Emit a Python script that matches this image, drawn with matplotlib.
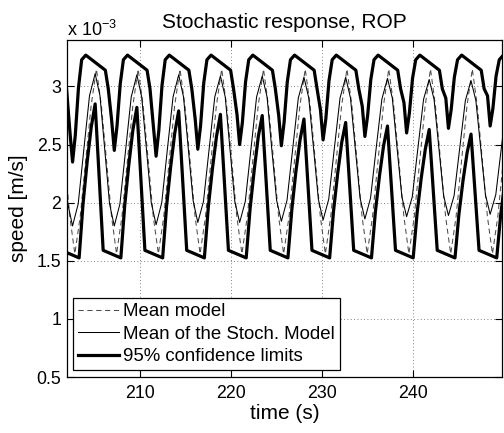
import matplotlib
matplotlib.use("Agg")
import matplotlib.pyplot as plt

plt.rcParams['font.family'] = ['Liberation Sans', 'DejaVu Sans']
plt.rcParams['mathtext.fontset'] = 'custom'
plt.rcParams['mathtext.rm'] = 'Liberation Sans'

# all speeds in units of 1e-3 m/s

# mean model (dashed)
t_mean_model = [201.20, 201.76, 202.31,
                202.86, 203.45, 204.05, 204.64, 205.23, 205.78, 206.34, 206.89,
                207.44, 208.03, 208.63, 209.22, 209.81, 210.36, 210.92, 211.47,
                212.03, 212.62, 213.22, 213.81, 214.40, 214.95, 215.51, 216.06,
                216.61, 217.20, 217.80, 218.39, 218.98, 219.53, 220.09, 220.64,
                221.20, 221.79, 222.39, 222.98, 223.57, 224.12, 224.68, 225.23,
                225.78, 226.37, 226.97, 227.56, 228.15, 228.70, 229.26, 229.81,
                230.36, 230.95, 231.55, 232.14, 232.73, 233.28, 233.84, 234.39,
                234.95, 235.54, 236.14, 236.73, 237.32, 237.87, 238.43, 238.98,
                239.53, 240.12, 240.72, 241.31, 241.90, 242.45, 243.01, 243.56,
                244.12, 244.71, 245.31, 245.90, 246.49, 247.04, 247.60, 248.15,
                248.70, 249.29, 249.89]
v_mean_model = [2.83, 2.36, 1.88,
                1.56, 1.88, 2.36, 2.83, 3.15, 2.83, 2.36, 1.88,
                1.56, 1.88, 2.36, 2.83, 3.15, 2.83, 2.36, 1.88,
                1.56, 1.88, 2.36, 2.83, 3.15, 2.83, 2.36, 1.88,
                1.56, 1.88, 2.36, 2.83, 3.15, 2.83, 2.36, 1.88,
                1.56, 1.88, 2.36, 2.83, 3.15, 2.83, 2.36, 1.88,
                1.56, 1.88, 2.36, 2.83, 3.15, 2.83, 2.36, 1.88,
                1.56, 1.88, 2.36, 2.83, 3.15, 2.83, 2.36, 1.88,
                1.56, 1.88, 2.36, 2.83, 3.15, 2.83, 2.36, 1.88,
                1.56, 1.88, 2.36, 2.83, 3.15, 2.83, 2.36, 1.88,
                1.56, 1.88, 2.36, 2.83, 3.15, 2.83, 2.36, 1.88,
                1.56, 1.88, 2.36]

# mean of the stochastic model (thin solid)
t_stoch_mean = [201.56, 202.09,
                202.61, 203.23, 203.85, 204.47, 205.09, 205.62, 206.14, 206.67,
                207.19, 207.81, 208.43, 209.05, 209.67, 210.20, 210.72, 211.25,
                211.78, 212.40, 213.02, 213.64, 214.26, 214.79, 215.31, 215.84,
                216.36, 216.98, 217.60, 218.22, 218.84, 219.37, 219.89, 220.42,
                220.95, 221.57, 222.19, 222.81, 223.43, 223.96, 224.48, 225.01,
                225.53, 226.15, 226.77, 227.39, 228.01, 228.54, 229.06, 229.59,
                230.11, 230.73, 231.35, 231.97, 232.59, 233.12, 233.64, 234.17,
                234.70, 235.32, 235.94, 236.56, 237.18, 237.71, 238.23, 238.76,
                239.28, 239.90, 240.52, 241.14, 241.76, 242.29, 242.81, 243.34,
                243.87, 244.49, 245.11, 245.73, 246.35, 246.88, 247.40, 247.93,
                248.45, 249.07, 249.69, 250.31]
v_stoch_mean = [2.46, 1.99,
                1.80, 1.99, 2.46, 2.92, 3.11, 2.92, 2.46, 1.99,
                1.80, 1.99, 2.45, 2.91, 3.10, 2.91, 2.46, 2.00,
                1.81, 2.00, 2.46, 2.91, 3.10, 2.91, 2.47, 2.02,
                1.83, 2.01, 2.46, 2.91, 3.09, 2.91, 2.46, 2.01,
                1.83, 2.01, 2.46, 2.91, 3.09, 2.91, 2.46, 2.02,
                1.84, 2.02, 2.46, 2.90, 3.08, 2.90, 2.47, 2.03,
                1.85, 2.03, 2.47, 2.90, 3.08, 2.90, 2.47, 2.04,
                1.86, 2.04, 2.47, 2.89, 3.07, 2.90, 2.47, 2.05,
                1.88, 2.05, 2.47, 2.89, 3.06, 2.89, 2.48, 2.06,
                1.89, 2.06, 2.47, 2.88, 3.05, 2.88, 2.48, 2.07,
                1.90, 2.07, 2.48, 2.88]

# upper 95% confidence limit (thick)
t_upper = [201.95, 202.32,
           202.61, 202.91, 203.26, 203.61, 204.06, 206.21, 206.53, 206.90,
           207.19, 207.49, 207.84, 208.19, 208.64, 210.79, 211.11, 211.48,
           211.78, 212.08, 212.43, 212.78, 213.23, 215.38, 215.70, 216.07,
           216.36, 216.66, 217.01, 217.36, 217.81, 219.96, 220.28, 220.66,
           220.95, 221.25, 221.60, 221.95, 222.40, 224.55, 224.87, 225.24,
           225.53, 225.83, 226.18, 226.53, 226.98, 229.13, 229.45, 229.82,
           230.11, 230.41, 230.76, 231.11, 231.56, 233.71, 234.03, 234.41,
           234.70, 235.00, 235.35, 235.70, 236.15, 238.30, 238.62, 238.99,
           239.28, 239.58, 239.93, 240.28, 240.73, 242.88, 243.20, 243.58,
           243.87, 244.17, 244.52, 244.87, 245.32, 247.47, 247.79, 248.16,
           248.45, 248.75, 249.10, 249.45, 249.90]
v_upper = [2.98, 2.61,
           2.35, 2.58, 2.99, 3.23, 3.27, 3.14, 2.98, 2.71,
           2.45, 2.66, 3.02, 3.23, 3.27, 3.14, 2.98, 2.66,
           2.40, 2.62, 3.01, 3.23, 3.27, 3.14, 2.98, 2.72,
           2.46, 2.66, 3.03, 3.23, 3.27, 3.14, 2.98, 2.76,
           2.50, 2.69, 3.04, 3.23, 3.27, 3.14, 2.98, 2.75,
           2.49, 2.69, 3.04, 3.23, 3.27, 3.14, 2.98, 2.80,
           2.54, 2.72, 3.05, 3.23, 3.27, 3.14, 2.98, 2.83,
           2.57, 2.75, 3.06, 3.23, 3.27, 3.14, 2.98, 2.86,
           2.60, 2.77, 3.07, 3.23, 3.27, 3.14, 2.98, 2.90,
           2.64, 2.80, 3.08, 3.23, 3.27, 3.14, 2.98, 2.92,
           2.66, 2.81, 3.09, 3.23, 3.27]

# lower 95% confidence limit (thick)
t_lower = [201.39,
           203.33, 203.76, 204.21, 204.66, 205.09, 205.97,
           207.91, 208.34, 208.79, 209.24, 209.67, 210.55,
           212.50, 212.93, 213.38, 213.83, 214.26, 215.14,
           217.08, 217.51, 217.96, 218.41, 218.84, 219.72,
           221.67, 222.10, 222.55, 223.00, 223.43, 224.31,
           226.25, 226.68, 227.13, 227.58, 228.01, 228.89,
           230.83, 231.26, 231.71, 232.16, 232.59, 233.47,
           235.42, 235.85, 236.30, 236.75, 237.18, 238.06,
           240.00, 240.43, 240.88, 241.33, 241.76, 242.64,
           244.59, 245.02, 245.47, 245.92, 246.35, 247.23,
           249.17, 249.60, 250.05]
v_lower = [1.59,
           1.525, 1.99, 2.35, 2.65, 2.85, 1.59,
           1.525, 1.98, 2.33, 2.63, 2.82, 1.59,
           1.525, 1.97, 2.31, 2.60, 2.79, 1.59,
           1.525, 1.96, 2.29, 2.57, 2.76, 1.59,
           1.525, 1.95, 2.28, 2.57, 2.75, 1.59,
           1.525, 1.94, 2.27, 2.54, 2.72, 1.59,
           1.525, 1.93, 2.25, 2.52, 2.69, 1.59,
           1.525, 1.92, 2.23, 2.49, 2.66, 1.59,
           1.525, 1.91, 2.21, 2.46, 2.63, 1.59,
           1.525, 1.90, 2.19, 2.43, 2.59, 1.59,
           1.525, 1.89, 2.17]

x_ticks = [210, 220, 230, 240]
y_ticks = [0.5, 1, 1.5, 2, 2.5, 3]
y_ticklabels = ['0.5', '1', '1.5', '2', '2.5', '3']

fig = plt.figure(figsize=(5.04, 4.33), dpi=100)
ax = fig.add_axes([67 / 504, 56 / 433, 435 / 504, 337 / 433])

ax.plot(t_mean_model, v_mean_model, color='0.3', lw=0.75, linestyle=(0, (5, 3.5)),
        label='Mean model')
ax.plot(t_stoch_mean, v_stoch_mean, color='k', lw=0.75, label='Mean of the Stoch. Model')
ax.plot(t_upper, v_upper, color='k', lw=2.3, label='95% confidence limits')
ax.plot(t_lower, v_lower, color='k', lw=2.3)

ax.set_xlim(202, 249.75)
ax.set_ylim(0.5, 3.4)
ax.set_xticks(x_ticks)
ax.set_yticks(y_ticks)
ax.set_yticklabels(y_ticklabels)
ax.tick_params(direction='in', top=True, right=True, length=5, width=0.8,
               labelsize=12.8)
ax.tick_params(axis='x', pad=6)
ax.tick_params(axis='y', pad=4)
ax.grid(True, color='0.35', linestyle=(0, (1, 3)), linewidth=0.6)
for s in ax.spines.values():
    s.set_linewidth(0.9)

ax.set_title('Stochastic response, ROP', fontsize=15, pad=9)
ax.set_xlabel('time (s)', fontsize=15, labelpad=1)
ax.set_ylabel('speed [m/s]', fontsize=15, labelpad=6)
ax.text(0, 1.012, r'x 10$^{\mathregular{-3}}$', transform=ax.transAxes,
        ha='left', va='baseline', fontsize=13)

leg = ax.legend(loc='lower left', bbox_to_anchor=(0.014, 0.021), borderaxespad=0,
                fontsize=13.4, handlelength=2.2, handletextpad=0.25, labelspacing=0.3,
                borderpad=0.25, fancybox=False, framealpha=1)
leg.get_frame().set_edgecolor('k')
leg.get_frame().set_linewidth(0.9)

fig.savefig('out.png', dpi=100)
